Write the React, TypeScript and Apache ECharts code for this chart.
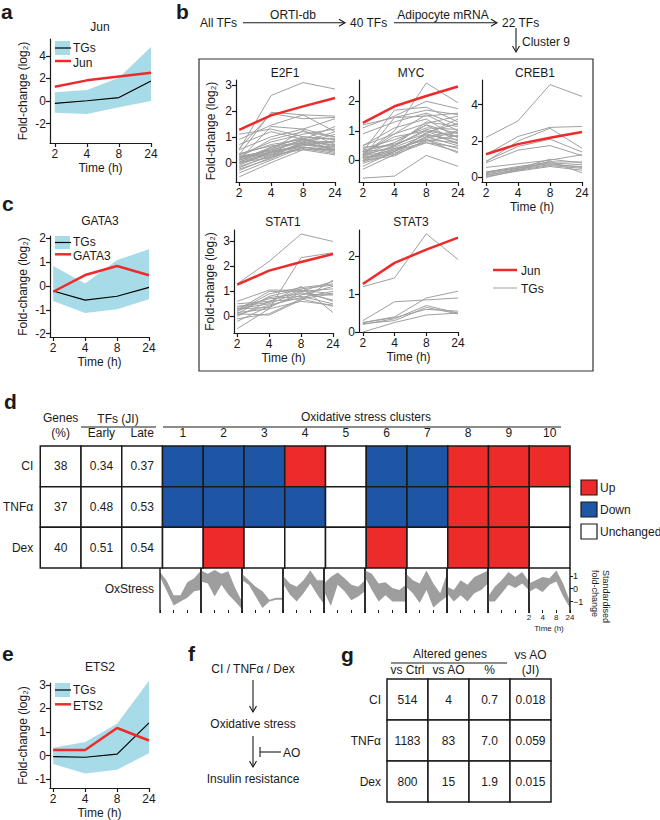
import React, { useEffect, useRef } from "react";
import * as echarts from "echarts";

// ---------------- data ----------------
const TIMES = ["2", "4", "8", "24"];
const JUN = [1.27, 1.83, 2.18, 2.5];

// panel a (Jun)
const A_TGS = [-0.22, 0.02, 0.3, 1.78];
const A_LOW = [-1.05, -1.15, -0.55, 0.0];
const A_HIGH = [0.78, 0.97, 2.05, 4.8];

// panel c (GATA3)
const C_GATA3 = [-0.24, 0.46, 0.84, 0.45];
const C_TGS = [-0.21, -0.59, -0.43, -0.06];
const C_LOW = [-0.63, -1.13, -0.98, -0.55];
const C_HIGH = [0.84, 0.11, 1.09, 1.54];

// panel e (ETS2)
const E_ETS2 = [0.24, 0.24, 1.17, 0.64];
const E_TGS = [-0.04, -0.07, 0.06, 1.39];
const E_LOW = [-0.36, -0.76, -0.6, 0.1];
const E_HIGH = [0.33, 0.58, 1.35, 3.18];

// panel b target genes
const E2F1_TGS = [
  [0.5, 2.6, 3.1, 2.85], [0.3, 1.95, 1.85, 1.8], [0.55, 1.9, 1.7, 1.75], [0.1, 1.4, 1.3, 1.7],
  [1.1, 1.3, 1.0, 0.9], [0.9, 1.45, 1.85, 1.2], [0.7, 1.2, 0.9, 1.4], [0.2, 0.9, 1.2, 1.0],
  [0.0, 0.6, 1.0, 0.9], [0.3, 0.7, 0.9, 0.6], [0.1, 0.5, 0.8, 0.5], [-0.1, 0.4, 0.7, 0.5],
  [0.2, 0.4, 0.6, 0.4], [0.0, 0.3, 0.7, 0.6], [-0.2, 0.3, 0.8, 0.7], [0.15, 0.55, 0.85, 0.8],
  [-0.3, 0.2, 0.6, 0.5], [-0.55, 0.0, 0.5, 0.3], [-0.4, 0.1, 0.6, 0.45], [0.25, 0.45, 0.9, 0.95],
  [0.05, 0.35, 0.75, 0.55], [0.3, 0.8, 1.1, 1.3], [0.2, 0.5, 1.25, 0.7], [-0.05, 0.45, 0.65, 0.85],
  [0.1, 0.6, 0.95, 0.45], [0.35, 0.65, 0.75, 1.1], [-0.15, 0.25, 0.55, 0.35], [0.0, 0.2, 0.8, 1.2],
  [0.25, 0.3, 0.5, 0.5], [0.5, 1.0, 1.3, 1.0], [0.1, 0.4, 0.9, 0.65], [-0.25, 0.15, 0.7, 0.8],
];
const MYC_TGS = [
  [0.2, 1.0, 2.62, 1.95], [-0.6, -0.53, 0.17, -0.2], [1.2, 1.45, 1.7, 1.55], [1.1, 1.5, 2.0, 1.75],
  [0.9, 1.3, 1.6, 1.2], [0.3, 1.7, 1.8, 1.3], [0.1, 1.45, 1.5, 1.6], [0.5, 0.9, 1.55, 1.0],
  [0.2, 0.6, 1.2, 0.9], [0.0, 0.5, 1.0, 0.8], [-0.2, 0.3, 0.8, 0.5], [0.3, 0.4, 0.7, 0.4],
  [0.1, 0.3, 0.9, 0.6], [-0.3, 0.2, 0.6, 0.3], [0.4, 0.7, 1.1, 1.05], [0.2, 0.45, 0.85, 0.7],
  [0.0, 0.35, 0.75, 0.95], [0.15, 0.5, 1.3, 1.15], [0.25, 0.8, 1.0, 0.55], [-0.1, 0.25, 0.65, 0.85],
  [0.35, 0.55, 0.9, 1.4], [0.05, 0.4, 0.7, 0.25], [0.5, 1.1, 1.4, 0.75], [0.1, 0.2, 0.95, 1.25],
  [0.3, 0.6, 1.2, 0.65], [-0.05, 0.3, 0.8, 1.0], [0.45, 0.5, 1.05, 0.8], [0.2, 0.9, 1.25, 1.5],
  [0.0, 0.15, 0.7, 0.6], [0.15, 0.35, 0.6, 0.45],
];
const CREB1_TGS = [
  [2.2, 3.1, 5.1, 4.45], [1.25, 2.25, 2.75, 2.8], [0.85, 2.0, 2.7, 1.6], [0.9, 1.7, 2.1, 1.4],
  [0.8, 1.5, 1.75, 1.2], [0.55, 0.75, 0.95, 1.25], [0.3, 0.6, 0.85, 0.85], [0.2, 0.5, 0.8, 0.7],
  [0.1, 0.45, 0.7, 0.6], [0.0, 0.4, 0.65, 0.5], [0.25, 0.55, 0.75, 0.55], [0.15, 0.4, 0.9, 0.25],
  [0.05, 0.35, 0.6, 0.4], [0.3, 0.5, 1.0, 0.8],
];
const STAT1_TGS = [
  [1.3, 2.2, 3.3, 3.0], [-0.5, 0.3, 2.35, 2.55], [0.6, 1.05, 1.05, 0.6], [0.1, 0.05, 0.65, 1.45],
  [0.3, 0.5, 1.0, 1.4], [0.2, 0.9, 1.15, 1.3], [-0.2, 0.4, 0.85, 1.2], [0.25, 1.0, 1.0, 1.1],
  [0.0, 0.6, 1.05, 0.9], [0.35, 0.7, 0.8, 0.5], [0.15, 0.3, 0.6, 0.45], [-0.1, 0.1, 0.7, 0.4],
  [0.4, 0.55, 1.2, 0.15], [0.2, 0.75, 0.9, 0.85], [0.05, 0.45, 0.75, 1.0], [0.3, 0.35, 0.95, 0.65],
  [0.1, 0.8, 1.1, 1.25], [0.5, 0.6, 0.7, 0.9],
];
const STAT3_TGS = [
  [1.2, 1.43, 2.6, 1.92], [0.3, 0.8, 0.85, 0.9], [0.25, 0.4, 0.9, 1.08], [0.2, 0.35, 0.7, 0.5],
  [0.25, 0.38, 0.6, 0.55], [0.0, 0.25, 0.45, 0.5], [0.22, 0.3, 0.65, 0.48],
];

// panel d
const D_ROWS = ["CI", "TNFα", "Dex"];
const D_TABLE_COLS = ["Genes\n(%)", "Early", "Late"];
const D_GENES = ["38", "37", "40"];
const D_EARLY = ["0.34", "0.48", "0.51"];
const D_LATE = ["0.37", "0.53", "0.54"];
const CLUSTERS = ["1", "2", "3", "4", "5", "6", "7", "8", "9", "10"];
const STATES = ["Up", "Down", "Unchanged"];
const CI_STATE = ["Down", "Down", "Down", "Up", "Unchanged", "Down", "Down", "Up", "Up", "Up"];
const TNF_STATE = ["Down", "Down", "Down", "Down", "Unchanged", "Down", "Down", "Up", "Up", "Unchanged"];
const DEX_STATE = ["Unchanged", "Up", "Unchanged", "Unchanged", "Unchanged", "Up", "Unchanged", "Up", "Up", "Unchanged"];
const OX_TICKS = [-1, 0, 1];
const OX_HIGH = [
  [1.3, 0.6, -0.5, -0.5, 0.5, 0.8, 1.4],
  [1.4, 1.15, 1.45, 1.15, 1.35, 0.05, -1.0],
  [1.15, 0.65, 0.15, -0.2, -0.85, -0.7, -0.7],
  [1.0, 0.4, 0.15, 0.65, 1.4, 0.65, 0.65],
  [0.4, 0.9, 1.25, 0.8, 0.3, 0.15, 0.65],
  [1.4, 1.15, 0.4, 0.5, 0.05, -0.1, 0.3],
  [1.15, 0.65, 0.4, 1.4, 0.4, -0.35, 1.15],
  [0.15, -0.1, 0.65, 0.3, 0.9, 1.15, 1.4],
  [-0.6, 0.15, 0.65, 1.3, 0.9, 1.3, 0.55],
  [0.4, 0.65, 0.9, 0.8, 1.4, 0.4, -1.0],
];
const OX_LOW = [
  [0.9, -0.2, -1.3, -1.0, -0.7, -0.2, -0.1],
  [0.55, 0.4, -0.6, 0.3, -0.45, -1.0, -1.6],
  [0.65, 0.3, -0.6, -1.5, -1.0, -0.85, -0.85],
  [0.4, -0.45, -1.0, -0.35, 0.4, -0.45, -1.2],
  [-0.2, -1.35, 0.3, -0.2, -0.9, -0.6, -0.2],
  [0.9, -0.1, -1.0, -0.5, -1.0, -1.0, -1.0],
  [0.15, -0.35, -1.1, -0.1, -1.45, -1.0, -0.6],
  [-0.35, -1.0, -0.5, -1.0, -0.35, -0.1, 0.4],
  [-1.0, -1.0, -0.35, 0.3, 0.05, 0.4, -0.1],
  [-0.25, 0.05, -0.25, 0.3, 0.55, -0.6, -1.5],
];

// panel g
const G_ROWS = ["CI", "TNFα", "Dex"];
const G_COLS = ["vs Ctrl", "vs AO", "%", "vs AO\n(JI)"];
const G_VS_CTRL = ["514", "1183", "800"];
const G_VS_AO = ["4", "83", "15"];
const G_PCT = ["0.7", "7.0", "1.9"];
const G_JI = ["0.018", "0.059", "0.015"];

// ---------------- styling ----------------
const FF = "'Liberation Sans', Arial, Helvetica, sans-serif";
const INK = "#1a1a1a";
const RED = "#ee2b2b";
const BLUE = "#1f55a5";
const BAND = "#a8dbe8";
const GREY = "#a0a0a0";
const OXGREY = "#9e9e9e";
const STATE_COLORS: Record<string, string> = { Up: RED, Down: BLUE, Unchanged: "#ffffff" };

function txt(text: string, x: number, y: number, o: any = {}) {
  const align = o.align || "center";
  return {
    type: "text",
    x,
    y,
    rotation: o.rotation || 0,
    silent: true,
    z: 50,
    style: {
      text,
      fill: o.color || INK,
      fontSize: o.size || 12,
      fontFamily: FF,
      fontWeight: o.weight || "normal",
      align,
      textAlign: align,
      verticalAlign: "middle",
      textVerticalAlign: "middle",
      lineHeight: o.lineHeight,
    },
  };
}
function seg(x1: number, y1: number, x2: number, y2: number, w = 1.1, color = INK) {
  return { type: "line", silent: true, z: 50, shape: { x1, y1, x2, y2 }, style: { stroke: color, lineWidth: w } };
}
function arrowRight(x1: number, x2: number, y: number) {
  return [
    seg(x1, y, x2, y),
    { type: "polyline", silent: true, z: 50, shape: { points: [[x2 - 6, y - 3.5], [x2, y], [x2 - 6, y + 3.5]] }, style: { stroke: INK, lineWidth: 1.1, fill: null } },
  ];
}
function arrowDown(x: number, y1: number, y2: number) {
  return [
    seg(x, y1, x, y2),
    { type: "polyline", silent: true, z: 50, shape: { points: [[x - 3.5, y2 - 6], [x, y2], [x + 3.5, y2 - 6]] }, style: { stroke: INK, lineWidth: 1.1, fill: null } },
  ];
}

function buildOption() {
  const grid: any[] = [];
  const xAxis: any[] = [];
  const yAxis: any[] = [];
  const series: any[] = [];
  const graphic: any[] = [];
  const ts = (size = 12) => ({ color: INK, fontSize: size, fontFamily: FF });
  const axLine = { color: INK, width: 1.2 };

  function linePanel(p: any) {
    const gi = grid.length;
    grid.push({ left: p.left, top: p.top, width: p.width, height: p.height });
    xAxis.push({
      type: "value", gridIndex: gi, min: p.xmin, max: 3,
      axisLine: { show: true, onZero: false, lineStyle: axLine },
      axisTick: { show: true, length: 4, customValues: [0, 1, 2, 3], lineStyle: axLine },
      axisLabel: { show: true, customValues: [0, 1, 2, 3], formatter: (v: number) => TIMES[Math.round(v)], margin: 5, ...ts(12) },
      splitLine: { show: false },
      name: p.xName || "", nameLocation: "middle", nameGap: p.xNameGap ?? 19, nameTextStyle: ts(12),
    });
    yAxis.push({
      type: "value", gridIndex: gi, min: p.ymin, max: p.ymax,
      axisLine: { show: true, onZero: false, lineStyle: axLine },
      axisTick: { show: true, length: 4, customValues: p.yticks, lineStyle: axLine },
      axisLabel: { show: true, customValues: p.yticks, margin: 4, ...ts(12) },
      splitLine: { show: false },
      name: p.yName || "", nameLocation: "middle", nameRotate: 90, nameGap: p.yNameGap ?? 21, nameTextStyle: ts(12),
    });
    return gi;
  }
  const line = (gi: number, vals: number[], color: string, width: number, z = 3) => ({
    type: "line", xAxisIndex: gi, yAxisIndex: gi, data: vals.map((v, i) => [i, v]),
    symbol: "none", lineStyle: { color, width }, itemStyle: { color }, z, silent: true,
  });
  const band = (gi: number, low: number[], high: number[]) => ({
    type: "custom", xAxisIndex: gi, yAxisIndex: gi, z: 1, silent: true,
    data: low.map((l, i) => [i, l, high[i]]),
    renderItem: (params: any, api: any) => {
      if (params.dataIndex !== 0) return null;
      const pts: number[][] = [];
      for (let i = 0; i < high.length; i++) pts.push(api.coord([i, high[i]]));
      for (let i = low.length - 1; i >= 0; i--) pts.push(api.coord([i, low[i]]));
      return { type: "polygon", shape: { points: pts }, style: { fill: BAND } };
    },
  });
  const FC = "Fold-change (log₂)";

  // ----- panel a -----
  const ga = linePanel({ left: 50, top: 39, width: 101, height: 104, xmin: -0.15, ymin: -3.73, ymax: 5.5, yticks: [-2, 0, 2, 4], xName: "Time (h)", yName: FC });
  series.push(band(ga, A_LOW, A_HIGH), line(ga, A_TGS, "#000", 1.2), line(ga, JUN, RED, 2.5, 4));
  // ----- panel c -----
  const gc = linePanel({ left: 50, top: 236, width: 99, height: 101, xmin: -0.1, ymin: -2.14, ymax: 2.1, yticks: [-2, -1, 0, 1, 2], xName: "Time (h)", yName: FC });
  series.push(band(gc, C_LOW, C_HIGH), line(gc, C_TGS, "#000", 1.2), line(gc, C_GATA3, RED, 2.5, 4));
  // ----- panel e -----
  const ge = linePanel({ left: 50, top: 683, width: 99, height: 107, xmin: -0.1, ymin: -1.375, ymax: 3.08, yticks: [-1, 0, 1, 2, 3], xName: "Time (h)", yName: FC });
  series.push(band(ge, E_LOW, E_HIGH), line(ge, E_TGS, "#000", 1.2), line(ge, E_ETS2, RED, 2.5, 4));

  // ----- panel b -----
  const bPanels = [
    { tgs: E2F1_TGS, left: 236, top: 80, width: 99, height: 102, xmin: -0.1, ymin: -0.75, ymax: 3.2, yticks: [0, 1, 2, 3], yName: FC, yNameGap: 19 },
    { tgs: MYC_TGS, left: 359, top: 80, width: 99, height: 102, xmin: -0.12, ymin: -0.73, ymax: 2.72, yticks: [0, 1, 2] },
    { tgs: CREB1_TGS, left: 482, top: 80, width: 100, height: 102, xmin: -0.125, ymin: -0.25, ymax: 5.35, yticks: [0, 2, 4], xName: "Time (h)" },
    { tgs: STAT1_TGS, left: 234, top: 230, width: 99, height: 103, xmin: -0.1, ymin: -0.67, ymax: 3.46, yticks: [0, 1, 2, 3], xName: "Time (h)", yName: FC, yNameGap: 18 },
    { tgs: STAT3_TGS, left: 359, top: 230, width: 99, height: 102, xmin: -0.12, ymin: 0, ymax: 2.7, yticks: [0, 1, 2], xName: "Time (h)" },
  ];
  for (const p of bPanels) {
    const gi = linePanel(p);
    p.tgs.forEach((v) => series.push(line(gi, v, GREY, 1, 2)));
    series.push(line(gi, JUN, RED, 2.5, 4));
  }

  // ----- panel d: table + heatmap -----
  const gd = grid.length;
  grid.push({ left: 37, top: 446, width: 533, height: 122 });
  xAxis.push({
    type: "category", gridIndex: gd, position: "top", data: [...D_TABLE_COLS, ...CLUSTERS],
    axisLine: { show: false }, axisTick: { show: false }, splitLine: { show: false },
    axisLabel: { interval: 0, margin: 6, lineHeight: 15, ...ts(12) },
  });
  yAxis.push({
    type: "category", gridIndex: gd, inverse: true, data: D_ROWS,
    axisLine: { show: false }, axisTick: { show: false }, splitLine: { show: false },
    axisLabel: { margin: 7, ...ts(12) },
  });
  const dTable = [D_GENES, D_EARLY, D_LATE];
  const dCells: number[][] = [];
  dTable.forEach((col, c) => col.forEach((_, r) => dCells.push([c, r])));
  series.push({
    type: "custom", xAxisIndex: gd, yAxisIndex: gd, data: dCells, z: 3, silent: true,
    renderItem: (params: any, api: any) => {
      const c = api.value(0), r = api.value(1);
      const [cx, cy] = api.coord([c, r]);
      const [w, h] = api.size([1, 1]);
      return {
        type: "group", children: [
          { type: "rect", shape: { x: cx - w / 2, y: cy - h / 2, width: w, height: h }, style: { fill: "#fff", stroke: INK, lineWidth: 1.5 } },
          { type: "text", style: { text: dTable[c][r], x: cx, y: cy, fill: INK, fontSize: 12, fontFamily: FF, align: "center", verticalAlign: "middle" } },
        ],
      };
    },
  });
  const heat = [CI_STATE, TNF_STATE, DEX_STATE];
  const hCells: number[][] = [];
  heat.forEach((row, r) => row.forEach((s, k) => hCells.push([k + D_TABLE_COLS.length, r, STATES.indexOf(s)])));
  series.push({
    type: "custom", xAxisIndex: gd, yAxisIndex: gd, data: hCells, z: 3, silent: true,
    renderItem: (params: any, api: any) => {
      const [cx, cy] = api.coord([api.value(0), api.value(1)]);
      const [w, h] = api.size([1, 1]);
      return { type: "rect", shape: { x: cx - w / 2, y: cy - h / 2, width: w, height: h }, style: { fill: STATE_COLORS[STATES[api.value(2)]], stroke: INK, lineWidth: 1.5 } };
    },
  });

  // ----- oxidative stress profiles -----
  const go = grid.length;
  grid.push({ left: 160, top: 568, width: 410, height: 42 });
  const oxTicks: number[] = [];
  for (let k = 0; k <= 30; k++) oxTicks.push(k / 3);
  xAxis.push({
    type: "value", gridIndex: go, min: 0, max: 10,
    axisLine: { show: false, onZero: false }, splitLine: { show: false },
    axisTick: { show: true, length: 3, customValues: oxTicks, lineStyle: { color: INK, width: 1 } },
    axisLabel: { show: true, customValues: [9, 9 + 1 / 3, 9 + 2 / 3, 10], formatter: (v: number) => TIMES[Math.round((v - 9) * 3)], margin: 3, ...ts(8) },
  });
  yAxis.push({
    type: "value", gridIndex: go, position: "right", min: -1.65, max: 1.6,
    axisLine: { show: false, onZero: false }, splitLine: { show: false },
    axisTick: { show: true, length: 3, customValues: OX_TICKS, lineStyle: { color: INK, width: 1 } },
    axisLabel: { show: true, customValues: OX_TICKS, formatter: (v: number) => (v < 0 ? "−" + Math.abs(v) : String(v)), margin: 3, ...ts(9) },
  });
  series.push({
    type: "custom", xAxisIndex: go, yAxisIndex: go, data: CLUSTERS.map((_, i) => [i, 0]), z: 3, silent: true,
    renderItem: (params: any, api: any) => {
      const i = params.dataIndex;
      const hi = OX_HIGH[i], lo = OX_LOW[i];
      const n = hi.length;
      const pts: number[][] = [];
      for (let j = 0; j < n; j++) pts.push(api.coord([i + j / (n - 1), hi[j]]));
      for (let j = n - 1; j >= 0; j--) pts.push(api.coord([i + j / (n - 1), lo[j]]));
      const tl = api.coord([i, 1.6]);
      const br = api.coord([i + 1, -1.65]);
      return {
        type: "group", children: [
          { type: "polygon", shape: { points: pts }, style: { fill: OXGREY } },
          { type: "line", shape: { x1: tl[0], y1: tl[1], x2: tl[0], y2: br[1] + 3 }, style: { stroke: INK, lineWidth: 1.4 } },
          { type: "line", shape: { x1: br[0], y1: tl[1], x2: br[0], y2: br[1] + 3 }, style: { stroke: INK, lineWidth: 1.4 } },
        ],
      };
    },
  });

  // ----- panel g table -----
  const gg = grid.length;
  grid.push({ left: 387, top: 679, width: 164, height: 123 });
  xAxis.push({
    type: "category", gridIndex: gg, position: "top", data: G_COLS,
    axisLine: { show: false }, axisTick: { show: false }, splitLine: { show: false },
    axisLabel: { interval: 0, margin: 2, lineHeight: 15, ...ts(12) },
  });
  yAxis.push({
    type: "category", gridIndex: gg, inverse: true, data: G_ROWS,
    axisLine: { show: false }, axisTick: { show: false }, splitLine: { show: false },
    axisLabel: { margin: 6, ...ts(12) },
  });
  const gTable = [G_VS_CTRL, G_VS_AO, G_PCT, G_JI];
  const gCells: number[][] = [];
  gTable.forEach((col, c) => col.forEach((_, r) => gCells.push([c, r])));
  series.push({
    type: "custom", xAxisIndex: gg, yAxisIndex: gg, data: gCells, z: 3, silent: true,
    renderItem: (params: any, api: any) => {
      const c = api.value(0), r = api.value(1);
      const [cx, cy] = api.coord([c, r]);
      const [w, h] = api.size([1, 1]);
      return {
        type: "group", children: [
          { type: "rect", shape: { x: cx - w / 2, y: cy - h / 2, width: w, height: h }, style: { fill: "#fff", stroke: INK, lineWidth: 1.5 } },
          { type: "text", style: { text: gTable[c][r], x: cx, y: cy, fill: INK, fontSize: 12, fontFamily: FF, align: "center", verticalAlign: "middle" } },
        ],
      };
    },
  });

  // ----- graphics: labels, titles, legends, arrows -----
  const L = (t: string, x: number, y: number) => txt(t, x, y, { size: 21, weight: "bold", align: "left" });
  graphic.push(L("a", 1, 11), L("b", 176, 11), L("c", 2, 203.5), L("d", 4, 401), L("e", 2, 653), L("f", 188, 653), L("g", 341, 654));

  // titles
  graphic.push(txt("Jun", 100, 27), txt("GATA3", 100, 221), txt("ETS2", 100, 667));
  graphic.push(txt("E2F1", 285, 73), txt("MYC", 411, 73), txt("CREB1", 535, 73), txt("STAT1", 283, 222), txt("STAT3", 411, 222));

  // legends a / c / e
  const bandLegend = (y0: number, y1: number, yr: number, name: string) => [
    { type: "rect", silent: true, z: 40, shape: { x: 55, y: y0, width: 15, height: y1 - y0 }, style: { fill: BAND } },
    seg(55, (y0 + y1) / 2, 71, (y0 + y1) / 2, 1.2, "#000"),
    seg(55, yr, 71, yr, 2.5, RED),
    txt("TGs", 73, (y0 + y1) / 2 - 0.5, { align: "left", lineHeight: 11 }),
    txt(name, 73, yr + 1.5, { align: "left", lineHeight: 11 }),
  ];
  graphic.push(...bandLegend(41, 55, 61, "Jun"), ...bandLegend(236, 249, 254.3, "GATA3"), ...bandLegend(683, 697, 704.3, "ETS2"));

  // panel b flow
  graphic.push(txt("All TFs", 200, 22.5, { align: "left" }));
  graphic.push(...arrowRight(243, 345, 22.7), txt("ORTI-db", 293, 15));
  graphic.push(txt("40 TFs", 350, 22.5, { align: "left" }));
  graphic.push(...arrowRight(394, 497, 22.7), txt("Adipocyte mRNA", 443, 15));
  graphic.push(txt("22 TFs", 502, 22.5, { align: "left" }));
  graphic.push(...arrowDown(516, 28, 52), txt("Cluster 9", 522, 42, { align: "left" }));
  graphic.push({ type: "rect", silent: true, z: 40, shape: { x: 199, y: 59, width: 394, height: 312 }, style: { fill: null, stroke: "#333", lineWidth: 1.2 } });
  graphic.push(seg(493, 270, 517, 270, 2.5, RED), txt("Jun", 521, 271, { align: "left" }));
  graphic.push(seg(493, 288, 517, 288, 1, GREY), txt("TGs", 521, 289, { align: "left" }));

  // panel d headers
  graphic.push(txt("TFs (JI)", 118, 419), seg(81, 427, 156, 427));
  graphic.push(txt("Oxidative stress clusters", 366, 417), seg(163, 427, 561, 427));
  graphic.push(txt("OxStress", 154, 589, { align: "right" }));
  graphic.push(txt("Standardised\nfold-change", 600, 570, { align: "left", size: 9, rotation: -Math.PI / 2, lineHeight: 11 }));
  graphic.push(txt("Time (h)", 549, 628, { size: 8 }));
  // panel d legend
  const legItems = [["Up", 480], ["Down", 502], ["Unchanged", 524]] as [string, number][];
  legItems.forEach(([s, y]) => {
    graphic.push({ type: "rect", silent: true, z: 40, shape: { x: 581, y, width: 16, height: 15 }, style: { fill: STATE_COLORS[s], stroke: INK, lineWidth: 1.2 } });
    graphic.push(txt(s, 600, y + 8, { align: "left" }));
  });

  // panel f
  graphic.push(txt("CI / TNFα / Dex", 253, 669));
  graphic.push(...arrowDown(253, 680, 712));
  graphic.push(txt("Oxidative stress", 253, 724));
  graphic.push(...arrowDown(253, 736, 767));
  graphic.push(seg(260, 747, 260, 757), seg(260, 752, 281, 752), txt("AO", 283, 752.5, { align: "left" }));
  graphic.push(txt("Insulin resistance", 253, 779));

  // panel g headers
  graphic.push(txt("Altered genes", 450, 654), seg(391, 663, 507, 663));

  return {
    animation: false,
    backgroundColor: "#ffffff",
    textStyle: { fontFamily: FF },
    grid, xAxis, yAxis, series, graphic,
  };
}

export default function App() {
  const ref = useRef<HTMLDivElement>(null);
  useEffect(() => {
    if (!ref.current) return;
    const chart = echarts.init(ref.current, null, { renderer: "svg" });
    chart.setOption(buildOption() as any);
    return () => chart.dispose();
  }, []);
  return <div ref={ref} style={{ position: "absolute", left: 0, top: 0, width: 660, height: 820, background: "#fff" }} />;
}
